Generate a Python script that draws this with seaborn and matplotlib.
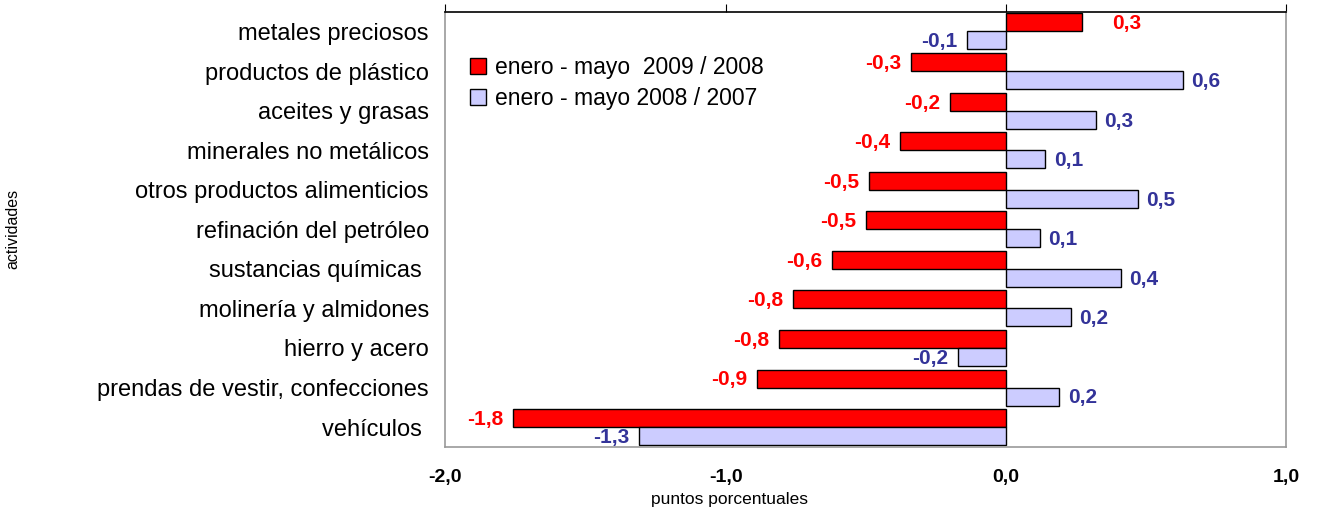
import pandas as pd
import seaborn as sns
import matplotlib.pyplot as plt

categories = ["metales preciosos", "productos de plástico", "aceites y grasas",
              "minerales no metálicos", "otros productos alimenticios",
              "refinación del petróleo", "sustancias químicas ",
              "molinería y almidones", "hierro y acero",
              "prendas de vestir, confecciones", "vehículos "]
series_names = ["enero - mayo  2009 / 2008", "enero - mayo 2008 / 2007"]
values_2009 = [0.27, -0.34, -0.20, -0.38, -0.49, -0.50, -0.62, -0.76, -0.81, -0.89, -1.76]
values_2008 = [-0.14, 0.63, 0.32, 0.14, 0.47, 0.12, 0.41, 0.23, -0.17, 0.19, -1.31]
x_ticks = [-2.0, -1.0, 0.0, 1.0]

df = pd.DataFrame({
    "actividad": categories * 2,
    "valor": values_2009 + values_2008,
    "serie": [series_names[0]] * len(categories) + [series_names[1]] * len(categories),
})

sns.set_style("white")
plt.rcParams["font.family"] = ["Liberation Sans", "DejaVu Sans"]
plt.rcParams["text.color"] = "black"
plt.rcParams["axes.labelcolor"] = "black"
plt.rcParams["xtick.color"] = "black"
plt.rcParams["ytick.color"] = "black"

fig = plt.figure(figsize=(13.18, 5.09), dpi=100)
ax = fig.add_axes([0.338, 0.122, 0.638, 0.855])

colors = ["#FF0000", "#CCCCFF"]
text_colors = ["#FF0000", "#333399"]
sns.barplot(data=df, y="actividad", x="valor", hue="serie", orient="h",
            palette=colors, width=0.91, edgecolor="black", linewidth=1.0,
            saturation=1, ax=ax)

# value labels
for cont, vals, tc in zip(ax.containers, [values_2009, values_2008], text_colors):
    for bar, v in zip(cont, vals):
        y = bar.get_y() + bar.get_height() / 2
        lab = f"{v:.1f}".replace(".", ",")
        if v >= 0:
            off = 22 if tc == "#FF0000" else 6
            ax.annotate(lab, (v, y), xytext=(off, -1), textcoords="offset points",
                        ha="left", va="center", color=tc, fontsize=15, fontweight="bold")
        else:
            ax.annotate(lab, (v, y), xytext=(-7, -1), textcoords="offset points",
                        ha="right", va="center", color=tc, fontsize=15, fontweight="bold")

ax.set_xlim(-2.0, 1.0)
ax.set_xticks(x_ticks)
ax.set_xticklabels([f"{t:.1f}".replace(".", ",") for t in x_ticks],
                   fontsize=14, fontweight="bold")
ax.tick_params(axis="x", which="both", bottom=False, top=True, direction="out",
               length=6, color="black", pad=10, labelbottom=True, labeltop=False)
ax.tick_params(axis="y", length=0, labelsize=17, pad=12)

ax.set_xlabel("puntos porcentuales", fontsize=12.5)
ax.xaxis.set_label_coords(0.338, -0.103)
ax.set_ylabel("actividades", fontsize=11.5)
ax.yaxis.set_label_coords(-0.505, 0.5)

for side in ["left", "right", "bottom"]:
    ax.spines[side].set_color("#999999")
    ax.spines[side].set_linewidth(1.2)
ax.spines["top"].set_color("black")
ax.spines["top"].set_linewidth(1.2)

ax.legend(loc="upper left", bbox_to_anchor=(0.018, 0.92), frameon=False,
          fontsize=16.5, handlelength=0.7, handleheight=0.7, handletextpad=0.4,
          labelspacing=0.35, borderaxespad=0)

fig.savefig("out.png", dpi=100)
